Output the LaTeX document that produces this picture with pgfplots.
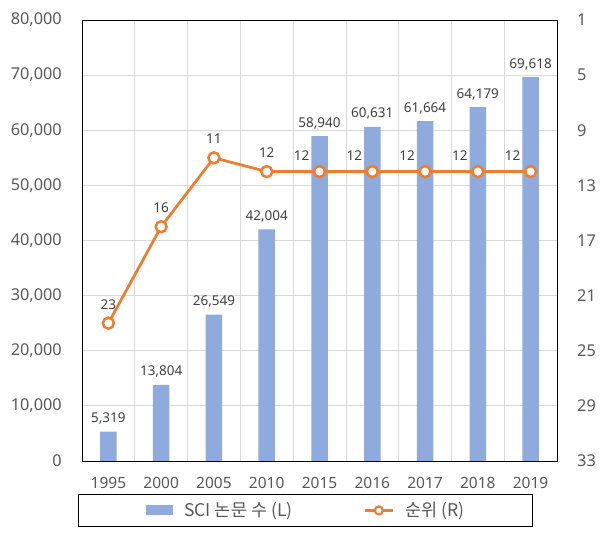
\documentclass[border=0pt]{standalone}
\usepackage{pgfplots}
\pgfplotsset{compat=1.18}
\usepackage{fontspec}
\setmainfont{Noto Sans}
\newfontfamily\kr{Noto Sans CJK KR}

\definecolor{barblue}{HTML}{8FAADC}
\definecolor{rankorange}{HTML}{ED7D31}
\definecolor{tickgray}{HTML}{595959}
\definecolor{labelgray}{HTML}{404040}
\definecolor{gridgray}{HTML}{D9D9D9}

\tikzset{datalabel/.style={font=\fontsize{13.5bp}{16bp}\selectfont, text=labelgray, inner sep=0pt, anchor=base}}

\pgfplotsset{
  /pgf/number format/assume math mode=true,
  /pgf/number format/1000 sep={,},
  base/.style={
    width=475bp, height=441bp, scale only axis,
    xmin=-0.5, xmax=8.5,
    major tick length=0, minor tick length=0,
    axis line style={black, line width=0.9bp},
    tick label style={text=tickgray},
  },
}

\begin{document}
\begin{tikzpicture}
\begin{axis}[
  name=main, base,
  ymin=0, ymax=80000, ytick={0,10000,...,80000}, scaled y ticks=false,
  xtick={0,...,8},
  xticklabels={1995,2000,2005,2010,2015,2016,2017,2018,2019},
  minor xtick={0.5,1.5,...,7.5},
  xminorgrids=true, ymajorgrids=true,
  major grid style={gridgray, line width=0.75bp},
  minor grid style={gridgray, line width=0.75bp},
  yticklabel style={font=\fontsize{16.3bp}{19bp}\selectfont, inner sep=0pt, xshift=-20bp},
  xticklabel style={font=\fontsize{15.5bp}{18bp}\selectfont, inner sep=0pt, yshift=-16bp},
]
\addplot[ybar, bar width=16.5bp, fill=barblue, draw=none,
  nodes near coords, nodes near coords style={datalabel, yshift=9bp}]
  coordinates {(0,5319) (1,13804) (2,26549) (3,42004) (4,58940)
               (5,60631) (6,61664) (7,64179) (8,69618)};
\end{axis}

\begin{axis}[
  base,
  ymin=1, ymax=33, y dir=reverse, ytick={1,5,...,33},
  axis x line=none, axis y line*=right,
  yticklabel style={font=\fontsize{16.3bp}{19bp}\selectfont, inner sep=0pt, xshift=20bp},
  legend columns=2,
  legend style={at={(-0.0084,-0.0748)}, anchor=north west,
    draw=black, line width=0.9bp, text=tickgray,
    font=\kr\fontsize{17.5bp}{20bp}\selectfont,
    inner xsep=68bp, inner ysep=8bp,
    nodes={inner sep=0pt},
    /tikz/column 1/.style={column sep=11bp},
    /tikz/column 2/.style={column sep=71bp},
    /tikz/column 3/.style={column sep=11bp}},
]
\addlegendimage{legend image code/.code={\fill[barblue] (0bp,-4.5bp) rectangle (26bp,4.5bp);}}
\addlegendentry{SCI 논문 수 (L)}
\addplot[rankorange, line width=2.75bp, mark=*, mark size=5.5bp,
  mark options={fill=white, draw=rankorange, line width=2.5bp},
  legend image code/.code={
    \draw[rankorange, line width=2.75bp] (0bp,0bp) -- (28bp,0bp);
    \draw[rankorange, fill=white, line width=2.2bp] (14bp,0bp) circle (4bp);}]
  coordinates {(0,23) (1,16) (2,11) (3,12) (4,12) (5,12) (6,12) (7,12) (8,12)};
\addlegendentry{순위 (R)}
\addplot[draw=none, forget plot, nodes near coords,
  nodes near coords style={datalabel, yshift=14bp}]
  coordinates {(0,23) (1,16) (2,11) (3,12)};
\addplot[draw=none, forget plot, nodes near coords,
  nodes near coords style={datalabel, xshift=-18bp, yshift=11bp}]
  coordinates {(4,12) (5,12) (6,12) (7,12) (8,12)};
\end{axis}
\pgfresetboundingbox
\path[use as bounding box] ([xshift=-82bp,yshift=-81bp]main.south west)
  rectangle ([xshift=49bp,yshift=20bp]main.north east);
\end{tikzpicture}
\end{document}
